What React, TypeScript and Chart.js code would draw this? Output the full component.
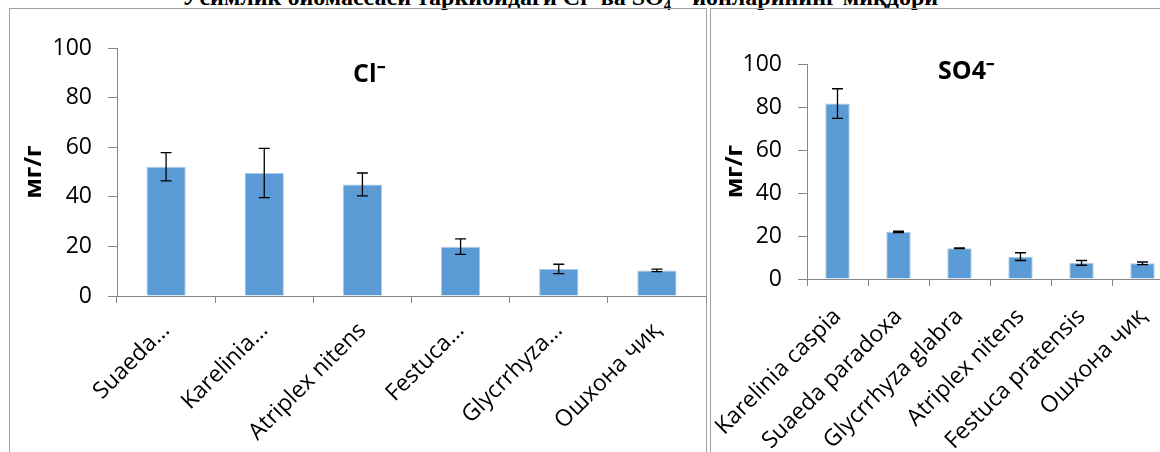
import React, { useEffect, useRef } from "react";
import { Chart, registerables } from "chart.js";

Chart.register(...registerables);

// ---- data ----
const clCategories = ["Suaeda…", "Karelinia…", "Atriplex nitens", "Festuca…", "Glycrrhyza…", "Ошхона чиқ"];
const clValues = [52.1, 49.6, 45.0, 19.9, 10.9, 10.3];
const clErrors = [5.7, 9.9, 4.6, 3.1, 1.9, 0.5];

const so4Categories = ["Karelinia caspia", "Suaeda paradoxa", "Glycrrhyza glabra", "Atriplex nitens", "Festuca pratensis", "Ошхона чиқ"];
const so4Values = [81.6, 21.9, 14.3, 10.4, 7.5, 7.3];
const so4Errors = [6.9, 0.3, 0.2, 1.8, 1.1, 0.6];

const yTickValues = [0, 20, 40, 60, 80, 100];
const yAxisTitle = "мг/г";
const clTitle = "Cl⁻";
const so4Title = "SO4⁻";
const pageTitle = "Ўсимлик биомассаси таркибидаги Cl⁻ ва SO₄²⁻ ионларининг миқдори";

const FONT = "'Open Sans', sans-serif";
const AXIS_GRAY = "#878787";
const BAR_BLUE = "#5B9BD5";

type ChartProps = {
  categories: string[];
  values: number[];
  errors: number[];
  title: string;
  canvasLeft: number;
  canvasWidth: number;
  canvasHeight: number;
  yWidth: number;
  padRight: number;
  areaTop: number;
  xHeight: number;
  yTitlePad: number;
  xLabelPad: number;
  titleDx: number;
  titleDy: number;
};

function makeErrorBarPlugin(errors: number[]) {
  return {
    id: "errorBars",
    afterDatasetsDraw(chart: any) {
      const meta = chart.getDatasetMeta(0);
      const yScale = chart.scales.y;
      const ctx = chart.ctx;
      const data = chart.data.datasets[0].data as number[];
      ctx.save();
      ctx.strokeStyle = "#000";
      ctx.lineWidth = 1.3;
      meta.data.forEach((bar: any, i: number) => {
        const v = data[i];
        const e = errors[i];
        const yt = yScale.getPixelForValue(v + e);
        const yb = yScale.getPixelForValue(v - e);
        const x = bar.x;
        const cap = 5.5;
        ctx.beginPath();
        ctx.moveTo(x, yt);
        ctx.lineTo(x, yb);
        ctx.moveTo(x - cap, yt);
        ctx.lineTo(x + cap, yt);
        ctx.moveTo(x - cap, yb);
        ctx.lineTo(x + cap, yb);
        ctx.stroke();
      });
      ctx.restore();
    },
  };
}

function makeTitlePlugin(text: string, dx: number, dy: number) {
  return {
    id: "innerTitle",
    afterDraw(chart: any) {
      const { ctx, chartArea } = chart;
      ctx.save();
      ctx.font = `bold 25px ${FONT}`;
      ctx.fillStyle = "#000";
      ctx.textAlign = "left";
      ctx.textBaseline = "alphabetic";
      ctx.fillText(text, chartArea.left + dx, chartArea.top + dy);
      ctx.restore();
    },
  };
}

function BarChart(p: ChartProps) {
  const ref = useRef<HTMLCanvasElement | null>(null);
  useEffect(() => {
    if (!ref.current) return;
    const chart = new Chart(ref.current, {
      type: "bar",
      data: {
        labels: p.categories,
        datasets: [
          {
            data: p.values,
            backgroundColor: BAR_BLUE,
            borderColor: "#a9c9ea",
            borderWidth: 1,
            barPercentage: 0.4,
            categoryPercentage: 1,
          },
        ],
      },
      options: {
        responsive: false,
        animation: false,
        events: [],
        layout: { padding: { left: 0, top: p.areaTop, right: p.padRight, bottom: 0 } },
        plugins: { legend: { display: false }, tooltip: { enabled: false }, title: { display: false } },
        scales: {
          x: {
            offset: true,
            grid: { offset: true, drawOnChartArea: false, drawTicks: true, tickLength: 7, color: AXIS_GRAY },
            border: { color: AXIS_GRAY },
            ticks: {
              autoSkip: false,
              minRotation: 45,
              maxRotation: 45,
              padding: p.xLabelPad,
              color: "#000",
              font: { family: FONT, size: 23 },
            },
            afterFit(s: any) {
              s.height = p.xHeight;
              s.paddingLeft = 0;
              s.paddingRight = 0;
            },
          },
          y: {
            min: 0,
            max: 100,
            afterBuildTicks(s: any) {
              s.ticks = yTickValues.map((v) => ({ value: v }));
            },
            grid: { drawOnChartArea: false, drawTicks: true, tickLength: 9, color: AXIS_GRAY },
            border: { color: AXIS_GRAY },
            ticks: { padding: 16, color: "#000", font: { family: FONT, size: 23 } },
            title: {
              display: true,
              text: yAxisTitle,
              color: "#000",
              font: { family: FONT, size: 24, weight: "bold" },
              padding: { top: p.yTitlePad, bottom: 0 },
            },
            afterFit(s: any) {
              s.width = p.yWidth;
            },
          },
        },
      } as any,
      plugins: [makeErrorBarPlugin(p.errors), makeTitlePlugin(p.title, p.titleDx, p.titleDy)],
    });
    return () => chart.destroy();
  }, []);
  return (
    <canvas
      ref={ref}
      width={p.canvasWidth}
      height={p.canvasHeight}
      style={{
        position: "absolute",
        left: p.canvasLeft,
        top: 0,
        width: p.canvasWidth,
        height: p.canvasHeight,
      }}
    />
  );
}

export default function App() {
  return (
    <div
      style={{
        position: "fixed",
        left: 0,
        top: 0,
        width: 1160,
        height: 452,
        overflow: "hidden",
        background: "#fff",
      }}
    >
      <div
        style={{
          position: "absolute",
          left: 0,
          top: -15,
          width: 1120,
          textAlign: "center",
          fontFamily: "'Liberation Serif', 'Times New Roman', serif",
          fontWeight: "bold",
          fontSize: 24,
          lineHeight: "24px",
          whiteSpace: "nowrap",
          color: "#000",
        }}
      >
        {pageTitle}
      </div>
      <div
        style={{
          position: "absolute",
          left: 9,
          top: 8,
          width: 698,
          height: 520,
          boxSizing: "border-box",
          border: "1px solid #a0a0a0",
        }}
      />
      <div
        style={{
          position: "absolute",
          left: 710,
          top: 8,
          width: 600,
          height: 520,
          boxSizing: "border-box",
          border: "1px solid #a0a0a0",
        }}
      />
      <BarChart
        categories={clCategories}
        values={clValues}
        errors={clErrors}
        title={clTitle}
        canvasLeft={0}
        canvasWidth={708}
        canvasHeight={452}
        yWidth={117}
        padRight={2}
        areaTop={48}
        xHeight={156}
        yTitlePad={20}
        xLabelPad={14}
        titleDx={236}
        titleDy={34}
      />
      <BarChart
        categories={so4Categories}
        values={so4Values}
        errors={so4Errors}
        title={so4Title}
        canvasLeft={711}
        canvasWidth={480}
        canvasHeight={452}
        yWidth={96}
        padRight={18}
        areaTop={64}
        xHeight={173}
        yTitlePad={10}
        xLabelPad={17}
        titleDx={131}
        titleDy={15}
      />
    </div>
  );
}
